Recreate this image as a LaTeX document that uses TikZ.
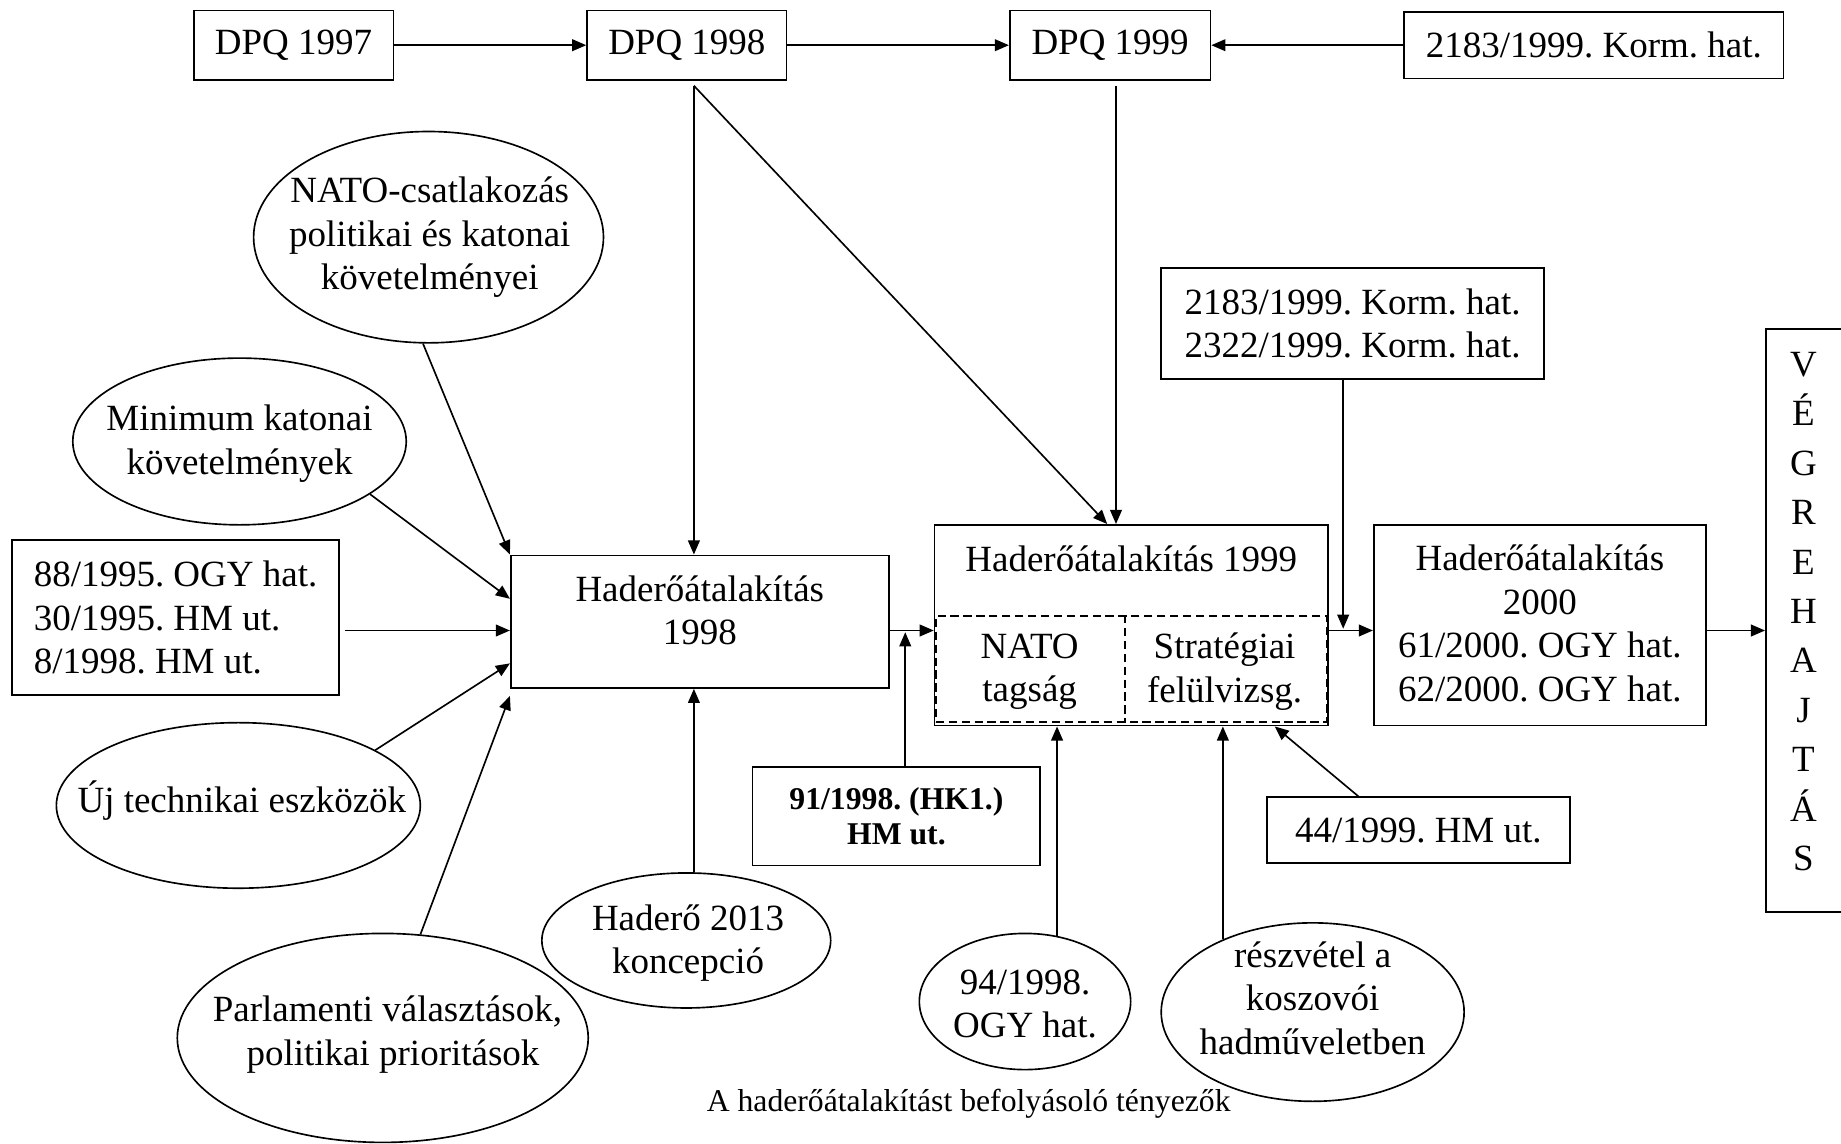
\documentclass[tikz,border=0pt]{standalone}
\usepackage{fontspec}
\setmainfont{Liberation Serif}
\usetikzlibrary{arrows.meta,shapes.geometric}
\frenchspacing
\begin{document}
\begin{tikzpicture}[x=1pt,y=-1pt,
  every node/.style={font=\fontsize{31.5}{37}\selectfont},
  box/.style={draw, line width=1.4pt, inner sep=0pt, align=center},
  oval/.style={draw, ellipse, line width=1.4pt, inner sep=0pt},
  lbl/.style={inner sep=0pt, align=center},
  arr/.style={line width=1.4pt, -{Triangle[length=12pt,width=10pt]}},
  dsh/.style={line width=1.4pt, dash pattern=on 7pt off 4pt},
]
\useasboundingbox[fill=white] (0,0) rectangle (1568,974);

% top row: DPQ documents
\node[box, minimum width=170, minimum height=59] (d97) at (250,38.5) {DPQ 1997};
\node[box, minimum width=170, minimum height=59] (d98) at (585,38.5) {DPQ 1998};
\node[box, minimum width=171, minimum height=59] (d99) at (945.5,38.5) {DPQ 1999};
\node[box, minimum width=323, minimum height=57] (k1) at (1357.5,38.5) {2183/1999. Korm. hat.};
\draw[arr] (d97) -- (d98);
\draw[arr] (d98) -- (d99);
\draw[arr] (k1) -- (d99);

% main transformation stages
\node[box, minimum width=322, minimum height=113] (h98) at (596,529.5) {};
\node[lbl] (h98t) at (596,520) {Haderőátalakítás\\1998};

\node[box, minimum width=335, minimum height=171] (h99) at (963.5,532.5) {};
\node[lbl] (h99t) at (963.5,476) {Haderőátalakítás 1999};
\node[draw, dsh, inner sep=0pt, minimum width=333, minimum height=90.5] (h99in) at (963.5,569.75) {};
\coordinate (dv) at (958,0);
\draw[dsh] (h99in.north -| dv) -- (h99in.south -| dv);
\node[lbl] (natot) at (877,572) {NATO\\tagság};
\node[lbl] (strat) at (1043,572) {Stratégiai\\felülvizsg.};

\node[box, minimum width=283, minimum height=171] (h00) at (1311.5,532.5) {};
\node[lbl] (h00t) at (1311.5,531) {Haderőátalakítás\\2000\\61/2000. OGY hat.\\62/2000. OGY hat.};

% implementation column
\node[box, minimum width=68, minimum height=497] (veg) at (1538,528.5) {};
\foreach \l [count=\i from 0] in {V,É,G,R,E,H,A,J,T,Á,S}
  \node[lbl, text height=21pt, text depth=0pt] (v\i) at (1536,{310+42.1*\i}) {\l};

% flow along the middle row
\coordinate (m) at (0,537);
\draw[arr] (h98.east |- m) -- (h99.west |- m);
\draw[arr] (h99.east |- m) -- (h00.west |- m);
\draw[arr] (h00.east |- m) -- (veg.west |- m);

% DPQ influences
\coordinate (d98s) at (591,73);
\coordinate (d99s) at (950.5,73);
\draw[arr] (d98s) -- (d98s |- h98.north);
\draw[arr] (d98s) -- ([xshift=-20.5pt]h99.north);
\draw[arr] (d99s) -- (d99s |- h99.north);

% government decisions
\node[box, minimum width=326, minimum height=95] (k2) at (1152,275.5) {2183/1999. Korm. hat.\\2322/1999. Korm. hat.};
\coordinate (j2) at (1144,535.5);
\draw[arr] (k2.south -| j2) -- (j2);

\node[box, minimum width=245, minimum height=84, font=\fontsize{27}{29.5}\selectfont\bfseries] (b91) at (763.5,695) {91/1998. (HK1.)\\HM ut.};
\coordinate (j1) at (771,538.5);
\draw[arr] (b91.north -| j1) -- (j1);

% factors acting on the 1998 stage
\node[oval, minimum width=298, minimum height=180] (natoE) at (365,202) {};
\node[lbl] (natoL) at (366,202) {NATO-csatlakozás\\politikai és katonai\\követelményei};
\node[oval, minimum width=284, minimum height=142] (minE) at (204,376) {};
\node[lbl] (minL) at (204,378) {Minimum katonai\\követelmények};
\node[box, minimum width=279, minimum height=132, align=left] (b88) at (149.5,526) {88/1995. OGY hat.\\30/1995. HM ut.\\8/1998. HM ut.};
\node[oval, minimum width=310, minimum height=141] (ujE) at (203,686) {};
\node[lbl] (ujL) at (206,682) {Új technikai eszközök};
\node[oval, minimum width=350, minimum height=178] (parE) at (326,884) {};
\node[lbl] (parL) at (330,881) {Parlamenti választások,\\\hspace*{0.3em}politikai prioritások};
\node[oval, minimum width=246, minimum height=115] (hE) at (584.5,801) {};
\node[lbl] (hL) at (586,803) {Haderő 2013\\koncepció};

\draw[arr] (natoE.-93) -- (h98.north west);
\draw[arr] (minE.-22) -- ([yshift=19.5pt]h98.west);
\draw[arr] ([xshift=4pt]b88.east |- m) -- (h98.west |- m);
\draw[arr] (ujE.22) -- ([yshift=-35.5pt]h98.west);
\draw[arr] (parE.70) -- ([yshift=-6pt]h98.south west);
\draw[arr] (hE.north -| d98s) -- (h98.south -| d98s);

% factors acting on the 1999 stage
\node[oval, minimum width=180, minimum height=116] (e94) at (873,853) {};
\node[lbl] (l94) at (873,855) {94/1998.\\OGY hat.};
\node[oval, minimum width=258, minimum height=152] (eres) at (1118,862) {};
\node[lbl] (lres) at (1118,850) {részvétel a\\koszovói\\hadműveletben};
\node[box, minimum width=258, minimum height=56] (b44) at (1208,707) {44/1999. HM ut.};

\draw[arr] (e94.64) -- (e94.64 |- h99.south);
\draw[arr] (eres.141.6) -- (eres.141.6 |- h99.south);
\draw[arr] ([xshift=-51pt]b44.north) -- ([xshift=-46pt]h99.south east);

% caption
\node[lbl, font=\fontsize{27}{31}\selectfont] (cap) at (825,940) {A haderőátalakítást befolyásoló tényezők};
\end{tikzpicture}
\end{document}
